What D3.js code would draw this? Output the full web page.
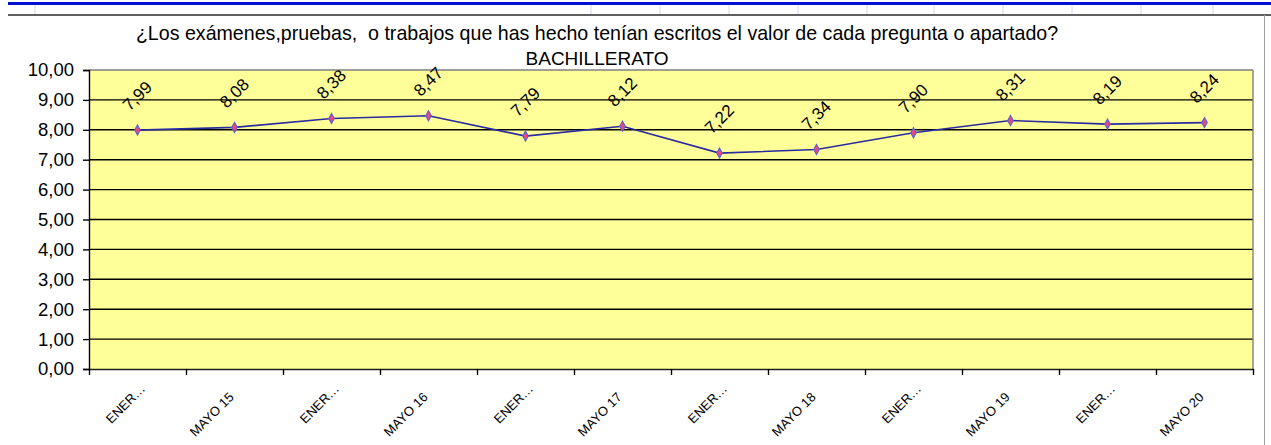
<!DOCTYPE html>
<html><head><meta charset="utf-8">
<script src="https://cdn.jsdelivr.net/npm/d3@7/dist/d3.min.js"></script>
<style>
html,body{margin:0;padding:0;background:#fff;}
svg{display:block;}
text{font-family:"Liberation Sans",Arial,sans-serif;}
</style></head>
<body>
<svg id="c" width="1271" height="445"></svg>
<script>
const categories = ["ENER…","MAYO 15","ENER…","MAYO 16","ENER…","MAYO 17","ENER…","MAYO 18","ENER…","MAYO 19","ENER…","MAYO 20"];
const values = [7.99, 8.08, 8.38, 8.47, 7.79, 8.12, 7.22, 7.34, 7.90, 8.31, 8.19, 8.24];
const yTicks = [0,1,2,3,4,5,6,7,8,9,10];
const titleLines = ["¿Los exámenes,pruebas,  o trabajos que has hecho tenían escritos el valor de cada pregunta o apartado?", "BACHILLERATO"];
const sheetCols = [35, 591, 660, 729, 798, 867, 934, 1003, 1072, 1141, 1213];

const svg = d3.select("#c");
const L = 89, R = 1253, T = 70, B = 369;
const fmt = v => v.toFixed(2).replace(".", ",");

// spreadsheet decoration
svg.selectAll("line.col").data(sheetCols).join("line")
  .attr("x1", d => d).attr("x2", d => d).attr("y1", 5).attr("y2", 14)
  .attr("stroke", "#d4d8e4").attr("stroke-width", 1);
svg.append("line").attr("x1", 8).attr("x2", 1271).attr("y1", 3.5).attr("y2", 3.5)
  .attr("stroke", "#0010d0").attr("stroke-width", 3);
svg.append("line").attr("x1", 8).attr("x2", 1271).attr("y1", 15).attr("y2", 15)
  .attr("stroke", "#606060").attr("stroke-width", 2);
svg.append("line").attr("x1", 1264.5).attr("x2", 1264.5).attr("y1", 15).attr("y2", 445)
  .attr("stroke", "#a0a0a0").attr("stroke-width", 1);

const x = d3.scaleBand().domain(d3.range(categories.length)).range([L, R]);
const xb = d3.scaleLinear().domain([0, categories.length]).range([L, R]);
const y = d3.scaleLinear().domain([0, 10]).range([B, T]);

// plot area
svg.append("rect").attr("x", L).attr("y", y(10)).attr("width", R - L).attr("height", y(0) - y(10))
  .attr("fill", "#ffff99");
svg.selectAll("line.grid").data(yTicks.filter(d => d > 0 && d < 10)).join("line")
  .attr("x1", L).attr("x2", R).attr("y1", d => y(d)).attr("y2", d => y(d))
  .attr("stroke", "#000").attr("stroke-width", 1.4);
svg.append("line").attr("x1", L).attr("x2", R).attr("y1", y(10)).attr("y2", y(10))
  .attr("stroke", "#808080").attr("stroke-width", 1.4);
svg.append("line").attr("x1", R).attr("x2", R).attr("y1", y(10)).attr("y2", y(0))
  .attr("stroke", "#808080").attr("stroke-width", 1.4);

// y axis
const yAxis = svg.append("g").attr("transform", `translate(${L},0)`)
  .call(d3.axisLeft(y).tickValues(yTicks).tickFormat(fmt).tickSize(6).tickPadding(9));
yAxis.select(".domain").attr("stroke", "#000").attr("stroke-width", 1.4);
yAxis.selectAll(".tick line").attr("stroke", "#000").attr("stroke-width", 1.4);
yAxis.selectAll(".tick text").attr("font-size", 18.5).attr("fill", "#000")
  .attr("font-family", "'Liberation Sans', Arial, sans-serif");

// x axis
const xAxis = svg.append("g").attr("transform", `translate(0,${B})`)
  .call(d3.axisBottom(xb).tickValues(d3.range(categories.length + 1)).tickFormat("").tickSize(6).tickSizeOuter(0));
xAxis.select(".domain").attr("stroke", "#202020").attr("stroke-width", 1.4);
xAxis.selectAll(".tick line").attr("stroke", "#000").attr("stroke-width", 1.4);
svg.selectAll("text.xl").data(categories).join("text")
  .attr("class", "xl")
  .attr("text-anchor", "end")
  .attr("font-size", 13)
  .attr("fill", "#000")
  .attr("dx", d => d.endsWith("…") ? 12 : 0)
  .attr("transform", (d, i) => `translate(${x(i) + x.bandwidth() / 2},${B + 29}) rotate(-45)`)
  .text(d => d);

// series line
const line = d3.line().x((d, i) => x(i) + x.bandwidth() / 2).y(d => y(d));
svg.append("path").datum(values).attr("d", line)
  .attr("fill", "none").attr("stroke", "#2b2ba0").attr("stroke-width", 1.6);

// markers
const dia = d3.symbol().type(d3.symbolDiamond).size(26);
svg.selectAll("path.mk").data(values).join("path")
  .attr("class", "mk")
  .attr("d", dia)
  .attr("transform", (d, i) => `translate(${x(i) + x.bandwidth() / 2},${y(d)}) scale(1,1.05)`)
  .attr("fill", "#f0467e").attr("stroke", "#6060d0").attr("stroke-width", 1.2);

// data labels
svg.selectAll("text.dl").data(values).join("text")
  .attr("class", "dl")
  .attr("text-anchor", "middle")
  .attr("dominant-baseline", "central")
  .attr("font-size", 17)
  .attr("fill", "#000")
  .attr("transform", (d, i) => `translate(${x(i) + x.bandwidth() / 2},${y(d) - 34}) rotate(-45)`)
  .text(fmt);

// title
const t1 = svg.append("text").attr("x", 597).attr("y", 40).attr("text-anchor", "middle")
  .attr("xml:space", "preserve").style("white-space", "pre")
  .attr("font-size", 17).attr("fill", "#000").text(titleLines[0]);
const w = t1.node().getComputedTextLength();
t1.attr("font-size", 17 * 923 / w);
const t2 = svg.append("text").attr("x", 597).attr("y", 65).attr("text-anchor", "middle")
  .attr("font-size", 17).attr("fill", "#000").text(titleLines[1]);
const w2 = t2.node().getComputedTextLength();
t2.attr("font-size", 17 * 143 / w2);
</script>
</body></html>
